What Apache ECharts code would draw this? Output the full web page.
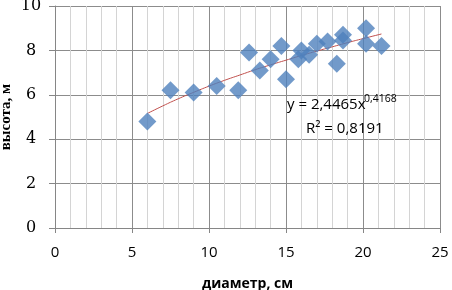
<!DOCTYPE html>
<html>
<head>
<meta charset="utf-8">
<script src="https://cdn.jsdelivr.net/npm/echarts@6/dist/echarts.min.js"></script>
<style>
  html, body { margin: 0; padding: 0; background: #fff; }
  #chart { width: 452px; height: 290px; }
</style>
</head>
<body>
<div id="chart"></div>
<script>
// диаметр (см) / высота (м) по деревьям
var diam = [6.0, 7.5, 9.0, 10.5, 11.9, 12.6, 13.3, 14.0, 14.7, 15.0, 15.8, 16.0, 16.5, 17.0, 17.7, 18.3, 18.7, 18.7, 20.2, 20.2, 21.2];
var height = [4.8, 6.2, 6.1, 6.4, 6.2, 7.9, 7.1, 7.6, 8.2, 6.7, 7.6, 8.0, 7.8, 8.3, 8.4, 7.4, 8.7, 8.45, 9.0, 8.3, 8.2];

// линия тренда
var trendX = [6, 7, 8, 9, 10, 11, 12, 13, 14, 15, 16, 17, 18, 19, 20, 21.2];
var trendY = [5.16, 5.5, 5.82, 6.11, 6.39, 6.65, 6.89, 7.13, 7.35, 7.56, 7.77, 7.97, 8.16, 8.35, 8.53, 8.74];

var xTicks = [0, 5, 10, 15, 20, 25];
var yTicks = [0, 2, 4, 6, 8, 10];

var eqText = 'y = 2,4465x';
var eqPow = '0,4168';
var r2Text = 'R² = 0,8191';

var pts = [];
for (var i = 0; i < diam.length; i++) {
    pts.push([diam[i], height[i]]);
}
var trend = [];
for (var j = 0; j < trendX.length; j++) {
    trend.push([trendX[j], trendY[j]]);
}

var chart = echarts.init(document.getElementById('chart'));
chart.setOption({
    animation: false,
    grid: {
        left: 55,
        right: 12,
        top: 6,
        bottom: 62,
        outerBoundsMode: 'none'
    },
    xAxis: {
        type: 'value',
        min: xTicks[0],
        max: xTicks[xTicks.length - 1],
        interval: 5,
        name: 'диаметр, см',
        nameLocation: 'middle',
        nameGap: 49,
        nameMoveOverlap: false,
        nameTextStyle: {
            fontFamily: 'Open Sans',
            fontWeight: 'bold',
            fontSize: 14,
            color: '#000'
        },
        axisLine: { show: true, lineStyle: { color: '#868686', width: 1 } },
        axisTick: { show: true, length: 5, lineStyle: { color: '#868686' } },
        axisLabel: {
            margin: 16,
            lineHeight: 18,
            fontFamily: 'Open Sans',
            fontSize: 15,
            color: '#000'
        },
        splitLine: { show: true, lineStyle: { color: '#8c8c8c', width: 1 } },
        minorTick: { show: false, splitNumber: 5 },
        minorSplitLine: { show: true, lineStyle: { color: '#d4d4d4', width: 1 } }
    },
    yAxis: {
        type: 'value',
        min: yTicks[0],
        max: yTicks[yTicks.length - 1],
        interval: 2,
        name: 'высота, м',
        nameLocation: 'middle',
        nameGap: 41,
        nameMoveOverlap: false,
        nameRotate: 90,
        nameTextStyle: {
            fontFamily: 'Liberation Serif',
            fontWeight: 'bold',
            fontSize: 15,
            color: '#000'
        },
        axisLine: { show: true, lineStyle: { color: '#868686', width: 1 } },
        axisTick: { show: true, length: 6, lineStyle: { color: '#868686' } },
        axisLabel: {
            margin: 24,
            align: 'center',
            fontFamily: 'DejaVu Serif',
            fontSize: 16,
            color: '#000'
        },
        splitLine: { show: true, lineStyle: { color: '#8c8c8c', width: 1 } }
    },
    graphic: [{
        type: 'text',
        left: 287,
        top: 97,
        style: {
            text: eqText,
            fontFamily: 'Open Sans',
            fontSize: 15,
            fill: '#000'
        },
        z: 100
    }, {
        type: 'text',
        left: 364,
        top: 94,
        style: {
            text: eqPow,
            fontFamily: 'Open Sans',
            fontSize: 10.5,
            fill: '#000'
        },
        z: 100
    }, {
        type: 'text',
        left: 306,
        top: 121,
        style: {
            text: r2Text,
            fontFamily: 'Open Sans',
            fontSize: 15,
            fill: '#000'
        },
        z: 100
    }],
    series: [{
        name: 'высота',
        type: 'scatter',
        data: pts,
        symbol: 'diamond',
        symbolSize: 18,
        itemStyle: { color: '#4F81BD' },
        z: 3
    }, {
        name: 'тренд',
        type: 'line',
        data: trend,
        smooth: true,
        showSymbol: false,
        lineStyle: { color: '#C0504D', width: 1 },
        z: 2
    }]
});
</script>
</body>
</html>
